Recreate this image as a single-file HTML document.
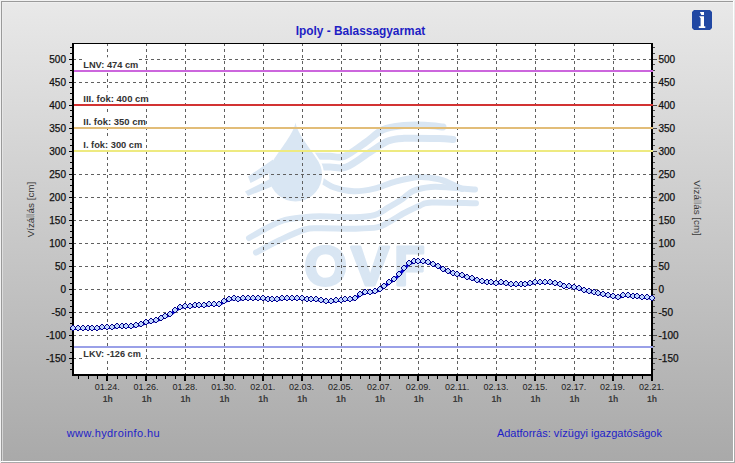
<!DOCTYPE html><html><head><meta charset="utf-8"><style>
html,body{margin:0;padding:0;overflow:hidden;background:#c8c8c8}
svg{display:block}
text{font-family:"Liberation Sans", sans-serif}
</style></head><body>
<svg width="735" height="463" viewBox="0 0 735 463">
<defs>
<linearGradient id="bg" x1="0" y1="0" x2="0" y2="1">
<stop offset="0" stop-color="#e9e9e9"/>
<stop offset="1" stop-color="#a9a9a9"/>
</linearGradient>
<clipPath id="rhalf"><rect x="300" y="100" width="60" height="120"/></clipPath>
</defs>
<rect x="0" y="0" width="735" height="463" fill="url(#bg)"/>
<g shape-rendering="crispEdges">
<rect x="0" y="0" width="735" height="1" fill="#f2f2f2"/>
<rect x="0" y="0" width="1" height="463" fill="#f2f2f2"/>
<rect x="1" y="1" width="733" height="1" fill="#9a9a9a"/>
<rect x="1" y="1" width="1" height="461" fill="#9a9a9a"/>
<rect x="1" y="461" width="733" height="1" fill="#ffffff"/>
<rect x="733" y="1" width="1" height="461" fill="#ffffff"/>
<rect x="2" y="2" width="731" height="1" fill="#efefef"/>
<rect x="2" y="2" width="1" height="459" fill="#efefef" opacity="0.6"/>
</g>
<text x="360.5" y="35" text-anchor="middle" font-size="11.9" font-weight="bold" fill="#1e1ec4">Ipoly - Balassagyarmat</text>
<path d="M694,10 H710 L712,12 V28 L710,30 H694 L692,28 V12 Z" fill="#2148a3"/>
<path d="M699.9,12 H704 V15 H701.3 Z M699.1,16.2 H704 V26.3 H705.3 V28 H698.8 V26.3 H700.6 V18.2 Z" fill="#fff"/>
<rect x="72" y="43" width="581" height="333" fill="#fff"/>
<g fill="none" stroke="#d9e6f3" stroke-linecap="round" stroke-linejoin="round">
<path d="M312.0,156.0 C315.0,156.1 324.7,156.2 330.0,156.3 C335.3,156.4 338.2,158.7 344.0,156.5 C349.8,154.3 358.2,147.5 364.8,143.0 C371.4,138.5 376.8,132.4 383.3,129.5 C389.8,126.6 397.1,126.2 404.0,125.5 C410.9,124.8 418.5,125.0 425.0,125.3 C431.5,125.5 440.0,126.7 443.0,127.0" stroke-width="7"/>
<path d="M316.0,167.0 C318.3,167.0 324.9,167.0 330.0,167.0 C335.1,167.0 339.7,169.4 346.3,167.0 C352.9,164.6 362.4,156.8 369.4,152.5 C376.3,148.2 382.2,143.4 388.0,141.0 C393.8,138.6 395.5,138.7 404.0,138.3 C412.5,137.9 430.7,138.3 438.9,138.5 C447.1,138.7 450.6,139.3 453.0,139.5" stroke-width="7"/>
<path d="M318.0,178.0 C320.6,179.5 327.6,185.0 333.6,187.2 C339.6,189.4 347.2,191.1 354.0,191.3 C360.8,191.5 367.6,190.2 374.4,188.6 C381.2,187.0 387.5,183.7 394.8,181.8 C402.1,179.9 411.2,177.5 418.4,177.0 C425.6,176.5 432.3,177.8 437.9,179.0 C443.5,180.2 448.0,182.5 452.0,184.2 C456.0,185.9 460.3,188.2 462.0,189.0" stroke-width="6"/>
<path d="M249.0,238.0 C251.7,236.5 259.3,231.9 265.0,229.0 C270.7,226.1 276.6,222.5 283.2,220.5 C289.8,218.5 298.7,217.9 304.8,217.2 C310.9,216.5 311.8,216.3 320.0,216.3 C328.2,216.3 344.9,217.4 354.0,217.2 C363.1,217.0 368.7,216.7 374.4,215.1 C380.1,213.5 383.5,210.3 388.0,207.7 C392.5,205.1 397.4,202.3 401.6,199.5 C405.8,196.7 408.1,193.1 413.0,191.0 C417.9,188.9 424.3,187.6 430.8,187.0 C437.3,186.4 444.6,187.3 452.0,187.7 C459.4,188.1 471.2,189.2 475.0,189.5" stroke-width="6"/>
<path d="M256.0,252.5 C260.0,250.4 271.9,243.8 280.0,240.0 C288.1,236.2 298.1,231.4 304.8,229.5 C311.5,227.6 311.8,228.4 320.0,228.3 C328.2,228.2 344.5,228.8 354.0,228.7 C363.5,228.5 371.3,228.4 377.0,227.4 C382.7,226.4 383.4,225.0 388.0,222.6 C392.6,220.2 399.1,215.8 404.4,213.0 C409.7,210.2 415.4,207.3 420.0,205.6 C424.6,203.8 422.7,202.9 432.0,202.5 C441.3,202.1 468.7,203.2 476.0,203.3" stroke-width="6"/>
</g>
<g fill="#d9e6f3">
<path d="M248,176.5 L273,159.5 L272.5,171.5 L250.5,183 Z"/>
<path d="M245,191.5 L271,178.5 L272,186.5 L248,196 Z"/>
</g>
<path d="M295.5,122.5 C297,133 311.5,150 318.4,161.6 A26.5,26.5 0 1,1 272.6,161.6 C279.5,150 294,133 295.5,122.5 Z" fill="#fff" stroke="#fff" stroke-width="4" clip-path="url(#rhalf)"/>
<path d="M295.5,122.5 C297,133 311.5,150 318.4,161.6 A26.5,26.5 0 1,1 272.6,161.6 C279.5,150 294,133 295.5,122.5 Z" fill="#d9e6f3"/>
<g font-size="55" font-weight="bold" fill="#d9e6f3" stroke="#d9e6f3" stroke-width="2.8" stroke-linejoin="round">
<text x="304.2" y="285.3">O</text>
<text transform="translate(349.8,285.3) scale(1.04,1)" x="1.07">V</text>
<text transform="translate(396.3,285.3) scale(0.91,1)" x="-2.23">F</text>
</g>
<g stroke="#606060" stroke-width="1" shape-rendering="crispEdges" fill="none">
<line x1="73" y1="59.5" x2="651" y2="59.5" stroke-dasharray="3,3"/>
<line x1="73" y1="82.5" x2="651" y2="82.5" stroke-dasharray="3,3"/>
<line x1="73" y1="105.5" x2="651" y2="105.5" stroke-dasharray="3,3"/>
<line x1="73" y1="128.5" x2="651" y2="128.5" stroke-dasharray="3,3"/>
<line x1="73" y1="151.5" x2="651" y2="151.5" stroke-dasharray="3,3"/>
<line x1="73" y1="174.5" x2="651" y2="174.5" stroke-dasharray="3,3"/>
<line x1="73" y1="197.5" x2="651" y2="197.5" stroke-dasharray="3,3"/>
<line x1="73" y1="220.5" x2="651" y2="220.5" stroke-dasharray="3,3"/>
<line x1="73" y1="243.5" x2="651" y2="243.5" stroke-dasharray="3,3"/>
<line x1="73" y1="266.5" x2="651" y2="266.5" stroke-dasharray="3,3"/>
<line x1="73" y1="289.5" x2="651" y2="289.5" stroke-dasharray="3,3"/>
<line x1="73" y1="312.5" x2="651" y2="312.5" stroke-dasharray="3,3"/>
<line x1="73" y1="335.5" x2="651" y2="335.5" stroke-dasharray="3,3"/>
<line x1="73" y1="358.5" x2="651" y2="358.5" stroke-dasharray="3,3"/>
<line x1="107.5" y1="43" x2="107.5" y2="374" stroke-dasharray="3,3"/>
<line x1="146.5" y1="43" x2="146.5" y2="374" stroke-dasharray="3,3"/>
<line x1="185.5" y1="43" x2="185.5" y2="374" stroke-dasharray="3,3"/>
<line x1="224.5" y1="43" x2="224.5" y2="374" stroke-dasharray="3,3"/>
<line x1="263.5" y1="43" x2="263.5" y2="374" stroke-dasharray="3,3"/>
<line x1="302.5" y1="43" x2="302.5" y2="374" stroke-dasharray="3,3"/>
<line x1="341.5" y1="43" x2="341.5" y2="374" stroke-dasharray="3,3"/>
<line x1="380.5" y1="43" x2="380.5" y2="374" stroke-dasharray="3,3"/>
<line x1="418.5" y1="43" x2="418.5" y2="374" stroke-dasharray="3,3"/>
<line x1="457.5" y1="43" x2="457.5" y2="374" stroke-dasharray="3,3"/>
<line x1="496.5" y1="43" x2="496.5" y2="374" stroke-dasharray="3,3"/>
<line x1="535.5" y1="43" x2="535.5" y2="374" stroke-dasharray="3,3"/>
<line x1="574.5" y1="43" x2="574.5" y2="374" stroke-dasharray="3,3"/>
<line x1="613.5" y1="43" x2="613.5" y2="374" stroke-dasharray="3,3"/>
</g>
<rect x="82" y="57.3" width="56.2" height="13" fill="#fff"/>
<rect x="82" y="91.4" width="66.7" height="13" fill="#fff"/>
<rect x="82" y="114.5" width="63.7" height="13" fill="#fff"/>
<rect x="82" y="137.3" width="60.2" height="13" fill="#fff"/>
<rect x="82" y="346.4" width="58.7" height="13" fill="#fff"/>
<g shape-rendering="crispEdges" fill="#000">
<rect x="72" y="43" width="581" height="1"/>
<rect x="72" y="43" width="2" height="333"/>
<rect x="651" y="43" width="2" height="333"/>
<rect x="72" y="374" width="581" height="2"/>
<rect x="70" y="47" width="2" height="1"/>
<rect x="70" y="53" width="2" height="1"/>
<rect x="69" y="59" width="3" height="1"/>
<rect x="70" y="64" width="2" height="1"/>
<rect x="70" y="70" width="2" height="1"/>
<rect x="70" y="76" width="2" height="1"/>
<rect x="69" y="82" width="3" height="1"/>
<rect x="70" y="87" width="2" height="1"/>
<rect x="70" y="93" width="2" height="1"/>
<rect x="70" y="99" width="2" height="1"/>
<rect x="69" y="105" width="3" height="1"/>
<rect x="70" y="110" width="2" height="1"/>
<rect x="70" y="116" width="2" height="1"/>
<rect x="70" y="122" width="2" height="1"/>
<rect x="69" y="128" width="3" height="1"/>
<rect x="70" y="133" width="2" height="1"/>
<rect x="70" y="139" width="2" height="1"/>
<rect x="70" y="145" width="2" height="1"/>
<rect x="69" y="151" width="3" height="1"/>
<rect x="70" y="156" width="2" height="1"/>
<rect x="70" y="162" width="2" height="1"/>
<rect x="70" y="168" width="2" height="1"/>
<rect x="69" y="174" width="3" height="1"/>
<rect x="70" y="179" width="2" height="1"/>
<rect x="70" y="185" width="2" height="1"/>
<rect x="70" y="191" width="2" height="1"/>
<rect x="69" y="197" width="3" height="1"/>
<rect x="70" y="202" width="2" height="1"/>
<rect x="70" y="208" width="2" height="1"/>
<rect x="70" y="214" width="2" height="1"/>
<rect x="69" y="220" width="3" height="1"/>
<rect x="70" y="225" width="2" height="1"/>
<rect x="70" y="231" width="2" height="1"/>
<rect x="70" y="237" width="2" height="1"/>
<rect x="69" y="243" width="3" height="1"/>
<rect x="70" y="248" width="2" height="1"/>
<rect x="70" y="254" width="2" height="1"/>
<rect x="70" y="260" width="2" height="1"/>
<rect x="69" y="266" width="3" height="1"/>
<rect x="70" y="271" width="2" height="1"/>
<rect x="70" y="277" width="2" height="1"/>
<rect x="70" y="283" width="2" height="1"/>
<rect x="69" y="289" width="3" height="1"/>
<rect x="70" y="294" width="2" height="1"/>
<rect x="70" y="300" width="2" height="1"/>
<rect x="70" y="306" width="2" height="1"/>
<rect x="69" y="312" width="3" height="1"/>
<rect x="70" y="317" width="2" height="1"/>
<rect x="70" y="323" width="2" height="1"/>
<rect x="70" y="329" width="2" height="1"/>
<rect x="69" y="335" width="3" height="1"/>
<rect x="70" y="340" width="2" height="1"/>
<rect x="70" y="346" width="2" height="1"/>
<rect x="70" y="352" width="2" height="1"/>
<rect x="69" y="358" width="3" height="1"/>
<rect x="70" y="363" width="2" height="1"/>
<rect x="70" y="369" width="2" height="1"/>
<rect x="78" y="376" width="1" height="3"/>
<rect x="88" y="376" width="1" height="3"/>
<rect x="97" y="376" width="1" height="3"/>
<rect x="106" y="376" width="2" height="5"/>
<rect x="117" y="376" width="1" height="3"/>
<rect x="126" y="376" width="1" height="3"/>
<rect x="136" y="376" width="1" height="3"/>
<rect x="145" y="376" width="2" height="5"/>
<rect x="156" y="376" width="1" height="3"/>
<rect x="165" y="376" width="1" height="3"/>
<rect x="175" y="376" width="1" height="3"/>
<rect x="184" y="376" width="2" height="5"/>
<rect x="194" y="376" width="1" height="3"/>
<rect x="204" y="376" width="1" height="3"/>
<rect x="214" y="376" width="1" height="3"/>
<rect x="223" y="376" width="2" height="5"/>
<rect x="233" y="376" width="1" height="3"/>
<rect x="243" y="376" width="1" height="3"/>
<rect x="253" y="376" width="1" height="3"/>
<rect x="262" y="376" width="2" height="5"/>
<rect x="272" y="376" width="1" height="3"/>
<rect x="282" y="376" width="1" height="3"/>
<rect x="292" y="376" width="1" height="3"/>
<rect x="301" y="376" width="2" height="5"/>
<rect x="311" y="376" width="1" height="3"/>
<rect x="321" y="376" width="1" height="3"/>
<rect x="331" y="376" width="1" height="3"/>
<rect x="340" y="376" width="2" height="5"/>
<rect x="350" y="376" width="1" height="3"/>
<rect x="360" y="376" width="1" height="3"/>
<rect x="369" y="376" width="1" height="3"/>
<rect x="379" y="376" width="2" height="5"/>
<rect x="389" y="376" width="1" height="3"/>
<rect x="399" y="376" width="1" height="3"/>
<rect x="408" y="376" width="1" height="3"/>
<rect x="417" y="376" width="2" height="5"/>
<rect x="428" y="376" width="1" height="3"/>
<rect x="437" y="376" width="1" height="3"/>
<rect x="447" y="376" width="1" height="3"/>
<rect x="456" y="376" width="2" height="5"/>
<rect x="467" y="376" width="1" height="3"/>
<rect x="476" y="376" width="1" height="3"/>
<rect x="486" y="376" width="1" height="3"/>
<rect x="495" y="376" width="2" height="5"/>
<rect x="506" y="376" width="1" height="3"/>
<rect x="515" y="376" width="1" height="3"/>
<rect x="525" y="376" width="1" height="3"/>
<rect x="534" y="376" width="2" height="5"/>
<rect x="544" y="376" width="1" height="3"/>
<rect x="554" y="376" width="1" height="3"/>
<rect x="564" y="376" width="1" height="3"/>
<rect x="573" y="376" width="2" height="5"/>
<rect x="583" y="376" width="1" height="3"/>
<rect x="593" y="376" width="1" height="3"/>
<rect x="603" y="376" width="1" height="3"/>
<rect x="612" y="376" width="2" height="5"/>
<rect x="622" y="376" width="1" height="3"/>
<rect x="632" y="376" width="1" height="3"/>
<rect x="642" y="376" width="1" height="3"/>
<rect x="651" y="376" width="2" height="5"/>
</g>
<g shape-rendering="crispEdges" fill="#4a4a4a"><rect x="653" y="47" width="2" height="1"/><rect x="653" y="53" width="2" height="1"/><rect x="653" y="59" width="4" height="1"/><rect x="653" y="64" width="2" height="1"/><rect x="653" y="70" width="2" height="1"/><rect x="653" y="76" width="2" height="1"/><rect x="653" y="82" width="4" height="1"/><rect x="653" y="87" width="2" height="1"/><rect x="653" y="93" width="2" height="1"/><rect x="653" y="99" width="2" height="1"/><rect x="653" y="105" width="4" height="1"/><rect x="653" y="110" width="2" height="1"/><rect x="653" y="116" width="2" height="1"/><rect x="653" y="122" width="2" height="1"/><rect x="653" y="128" width="4" height="1"/><rect x="653" y="133" width="2" height="1"/><rect x="653" y="139" width="2" height="1"/><rect x="653" y="145" width="2" height="1"/><rect x="653" y="151" width="4" height="1"/><rect x="653" y="156" width="2" height="1"/><rect x="653" y="162" width="2" height="1"/><rect x="653" y="168" width="2" height="1"/><rect x="653" y="174" width="4" height="1"/><rect x="653" y="179" width="2" height="1"/><rect x="653" y="185" width="2" height="1"/><rect x="653" y="191" width="2" height="1"/><rect x="653" y="197" width="4" height="1"/><rect x="653" y="202" width="2" height="1"/><rect x="653" y="208" width="2" height="1"/><rect x="653" y="214" width="2" height="1"/><rect x="653" y="220" width="4" height="1"/><rect x="653" y="225" width="2" height="1"/><rect x="653" y="231" width="2" height="1"/><rect x="653" y="237" width="2" height="1"/><rect x="653" y="243" width="4" height="1"/><rect x="653" y="248" width="2" height="1"/><rect x="653" y="254" width="2" height="1"/><rect x="653" y="260" width="2" height="1"/><rect x="653" y="266" width="4" height="1"/><rect x="653" y="271" width="2" height="1"/><rect x="653" y="277" width="2" height="1"/><rect x="653" y="283" width="2" height="1"/><rect x="653" y="289" width="4" height="1"/><rect x="653" y="294" width="2" height="1"/><rect x="653" y="300" width="2" height="1"/><rect x="653" y="306" width="2" height="1"/><rect x="653" y="312" width="4" height="1"/><rect x="653" y="317" width="2" height="1"/><rect x="653" y="323" width="2" height="1"/><rect x="653" y="329" width="2" height="1"/><rect x="653" y="335" width="4" height="1"/><rect x="653" y="340" width="2" height="1"/><rect x="653" y="346" width="2" height="1"/><rect x="653" y="352" width="2" height="1"/><rect x="653" y="358" width="4" height="1"/><rect x="653" y="363" width="2" height="1"/><rect x="653" y="369" width="2" height="1"/></g>
<g shape-rendering="crispEdges">
<rect x="74" y="70" width="579" height="2" fill="#cc66dd"/>
<rect x="74" y="104" width="579" height="2" fill="#d23232"/>
<rect x="74" y="127" width="579" height="2" fill="#e2bd78"/>
<rect x="74" y="150" width="579" height="2" fill="#eeea80"/>
<rect x="74" y="346" width="579" height="2" fill="#9aa0e8"/>
</g>
<text x="83.3" y="67.8" font-size="9.3" font-weight="bold" fill="#333" textLength="55" lengthAdjust="spacingAndGlyphs">LNV: 474 cm</text>
<text x="83.3" y="101.9" font-size="9.3" font-weight="bold" fill="#333" textLength="65.5" lengthAdjust="spacingAndGlyphs">III. fok: 400 cm</text>
<text x="83.3" y="125" font-size="9.3" font-weight="bold" fill="#333" textLength="62.5" lengthAdjust="spacingAndGlyphs">II. fok: 350 cm</text>
<text x="83.3" y="147.8" font-size="9.3" font-weight="bold" fill="#333" textLength="59" lengthAdjust="spacingAndGlyphs">I. fok: 300 cm</text>
<text x="83.3" y="356.9" font-size="9.3" font-weight="bold" fill="#333" textLength="57.5" lengthAdjust="spacingAndGlyphs">LKV: -126 cm</text>
<polyline points="73.5,328.5 78.5,328.5 83.5,328.5 88.5,328.5 92.5,328.5 97.5,328.5 102.5,327.5 107.5,327.5 112.5,327.5 117.5,326.5 122.5,326.5 126.5,326.5 131.5,326.5 136.5,325.5 141.5,324.5 146.5,322.5 151.5,321.5 156.5,320.5 161.5,318.5 165.5,316.5 170.5,314.5 175.5,310.5 180.5,307.5 185.5,306.5 190.5,306.5 195.5,305.5 199.5,305.5 204.5,305.5 209.5,304.5 214.5,304.5 219.5,304.5 224.5,301.5 229.5,299.5 234.5,298.5 238.5,299.5 243.5,298.5 248.5,298.5 253.5,298.5 258.5,298.5 263.5,298.5 268.5,299.5 272.5,299.5 277.5,299.5 282.5,298.5 287.5,298.5 292.5,298.5 297.5,298.5 302.5,298.5 307.5,299.5 311.5,299.5 316.5,299.5 321.5,300.5 326.5,301.5 331.5,301.5 336.5,300.5 341.5,300.5 345.5,299.5 350.5,299.5 355.5,298.5 360.5,294.5 365.5,292.5 370.5,292.5 375.5,291.5 380.5,289.5 384.5,286.5 389.5,282.5 394.5,279.5 399.5,274.5 404.5,268.5 409.5,263.5 414.5,261.5 418.5,261.5 423.5,261.5 428.5,262.5 433.5,264.5 438.5,266.5 443.5,269.5 448.5,271.5 453.5,273.5 457.5,274.5 462.5,275.5 467.5,277.5 472.5,278.5 477.5,280.5 482.5,281.5 487.5,282.5 491.5,282.5 496.5,283.5 501.5,282.5 506.5,283.5 511.5,284.5 516.5,284.5 521.5,284.5 525.5,284.5 530.5,283.5 535.5,282.5 540.5,282.5 545.5,282.5 550.5,282.5 555.5,283.5 560.5,284.5 564.5,286.5 569.5,286.5 574.5,287.5 579.5,288.5 584.5,290.5 589.5,291.5 594.5,292.5 598.5,293.5 603.5,294.5 608.5,295.5 613.5,296.5 618.5,297.5 623.5,295.5 628.5,295.5 633.5,296.5 637.5,296.5 642.5,297.5 647.5,297.5 652.5,298.5" fill="none" stroke="#0000d8" stroke-width="3" stroke-linejoin="round"/>
<defs><g id="mk" shape-rendering="crispEdges"><path d="M-1,-2h2v1h-2zM-2,-1h4v2h-4zM-1,1h2v1h-2z" fill="#bfd6ff"/><path d="M-1,-3h2v1h-2zM-2,-2h1v1h-1zM1,-2h1v1h-1zM-3,-1h1v2h-1zM2,-1h1v2h-1zM-2,1h1v1h-1zM1,1h1v1h-1zM-1,2h2v1h-2z" fill="#000086"/></g></defs>
<use href="#mk" x="73" y="328"/>
<use href="#mk" x="78" y="328"/>
<use href="#mk" x="83" y="328"/>
<use href="#mk" x="88" y="328"/>
<use href="#mk" x="92" y="328"/>
<use href="#mk" x="97" y="328"/>
<use href="#mk" x="102" y="327"/>
<use href="#mk" x="107" y="327"/>
<use href="#mk" x="112" y="327"/>
<use href="#mk" x="117" y="326"/>
<use href="#mk" x="122" y="326"/>
<use href="#mk" x="126" y="326"/>
<use href="#mk" x="131" y="326"/>
<use href="#mk" x="136" y="325"/>
<use href="#mk" x="141" y="324"/>
<use href="#mk" x="146" y="322"/>
<use href="#mk" x="151" y="321"/>
<use href="#mk" x="156" y="320"/>
<use href="#mk" x="161" y="318"/>
<use href="#mk" x="165" y="316"/>
<use href="#mk" x="170" y="314"/>
<use href="#mk" x="175" y="310"/>
<use href="#mk" x="180" y="307"/>
<use href="#mk" x="185" y="306"/>
<use href="#mk" x="190" y="306"/>
<use href="#mk" x="195" y="305"/>
<use href="#mk" x="199" y="305"/>
<use href="#mk" x="204" y="305"/>
<use href="#mk" x="209" y="304"/>
<use href="#mk" x="214" y="304"/>
<use href="#mk" x="219" y="304"/>
<use href="#mk" x="224" y="301"/>
<use href="#mk" x="229" y="299"/>
<use href="#mk" x="234" y="298"/>
<use href="#mk" x="238" y="299"/>
<use href="#mk" x="243" y="298"/>
<use href="#mk" x="248" y="298"/>
<use href="#mk" x="253" y="298"/>
<use href="#mk" x="258" y="298"/>
<use href="#mk" x="263" y="298"/>
<use href="#mk" x="268" y="299"/>
<use href="#mk" x="272" y="299"/>
<use href="#mk" x="277" y="299"/>
<use href="#mk" x="282" y="298"/>
<use href="#mk" x="287" y="298"/>
<use href="#mk" x="292" y="298"/>
<use href="#mk" x="297" y="298"/>
<use href="#mk" x="302" y="298"/>
<use href="#mk" x="307" y="299"/>
<use href="#mk" x="311" y="299"/>
<use href="#mk" x="316" y="299"/>
<use href="#mk" x="321" y="300"/>
<use href="#mk" x="326" y="301"/>
<use href="#mk" x="331" y="301"/>
<use href="#mk" x="336" y="300"/>
<use href="#mk" x="341" y="300"/>
<use href="#mk" x="345" y="299"/>
<use href="#mk" x="350" y="299"/>
<use href="#mk" x="355" y="298"/>
<use href="#mk" x="360" y="294"/>
<use href="#mk" x="365" y="292"/>
<use href="#mk" x="370" y="292"/>
<use href="#mk" x="375" y="291"/>
<use href="#mk" x="380" y="289"/>
<use href="#mk" x="384" y="286"/>
<use href="#mk" x="389" y="282"/>
<use href="#mk" x="394" y="279"/>
<use href="#mk" x="399" y="274"/>
<use href="#mk" x="404" y="268"/>
<use href="#mk" x="409" y="263"/>
<use href="#mk" x="414" y="261"/>
<use href="#mk" x="418" y="261"/>
<use href="#mk" x="423" y="261"/>
<use href="#mk" x="428" y="262"/>
<use href="#mk" x="433" y="264"/>
<use href="#mk" x="438" y="266"/>
<use href="#mk" x="443" y="269"/>
<use href="#mk" x="448" y="271"/>
<use href="#mk" x="453" y="273"/>
<use href="#mk" x="457" y="274"/>
<use href="#mk" x="462" y="275"/>
<use href="#mk" x="467" y="277"/>
<use href="#mk" x="472" y="278"/>
<use href="#mk" x="477" y="280"/>
<use href="#mk" x="482" y="281"/>
<use href="#mk" x="487" y="282"/>
<use href="#mk" x="491" y="282"/>
<use href="#mk" x="496" y="283"/>
<use href="#mk" x="501" y="282"/>
<use href="#mk" x="506" y="283"/>
<use href="#mk" x="511" y="284"/>
<use href="#mk" x="516" y="284"/>
<use href="#mk" x="521" y="284"/>
<use href="#mk" x="525" y="284"/>
<use href="#mk" x="530" y="283"/>
<use href="#mk" x="535" y="282"/>
<use href="#mk" x="540" y="282"/>
<use href="#mk" x="545" y="282"/>
<use href="#mk" x="550" y="282"/>
<use href="#mk" x="555" y="283"/>
<use href="#mk" x="560" y="284"/>
<use href="#mk" x="564" y="286"/>
<use href="#mk" x="569" y="286"/>
<use href="#mk" x="574" y="287"/>
<use href="#mk" x="579" y="288"/>
<use href="#mk" x="584" y="290"/>
<use href="#mk" x="589" y="291"/>
<use href="#mk" x="594" y="292"/>
<use href="#mk" x="598" y="293"/>
<use href="#mk" x="603" y="294"/>
<use href="#mk" x="608" y="295"/>
<use href="#mk" x="613" y="296"/>
<use href="#mk" x="618" y="297"/>
<use href="#mk" x="623" y="295"/>
<use href="#mk" x="628" y="295"/>
<use href="#mk" x="633" y="296"/>
<use href="#mk" x="637" y="296"/>
<use href="#mk" x="642" y="297"/>
<use href="#mk" x="647" y="297"/>
<use href="#mk" x="652" y="298"/>
<g font-size="10" fill="#111" stroke="#111" stroke-width="0.25">
<text x="66" y="62.8" text-anchor="end">500</text>
<text x="658.5" y="62.8">500</text>
<text x="66" y="85.8" text-anchor="end">450</text>
<text x="658.5" y="85.8">450</text>
<text x="66" y="108.8" text-anchor="end">400</text>
<text x="658.5" y="108.8">400</text>
<text x="66" y="131.8" text-anchor="end">350</text>
<text x="658.5" y="131.8">350</text>
<text x="66" y="154.8" text-anchor="end">300</text>
<text x="658.5" y="154.8">300</text>
<text x="66" y="177.8" text-anchor="end">250</text>
<text x="658.5" y="177.8">250</text>
<text x="66" y="200.8" text-anchor="end">200</text>
<text x="658.5" y="200.8">200</text>
<text x="66" y="223.8" text-anchor="end">150</text>
<text x="658.5" y="223.8">150</text>
<text x="66" y="246.8" text-anchor="end">100</text>
<text x="658.5" y="246.8">100</text>
<text x="66" y="269.8" text-anchor="end">50</text>
<text x="658.5" y="269.8">50</text>
<text x="66" y="292.8" text-anchor="end">0</text>
<text x="658.5" y="292.8">0</text>
<text x="66" y="315.8" text-anchor="end">-50</text>
<text x="658.5" y="315.8">-50</text>
<text x="66" y="338.8" text-anchor="end">-100</text>
<text x="658.5" y="338.8">-100</text>
<text x="66" y="361.8" text-anchor="end">-150</text>
<text x="658.5" y="361.8">-150</text>
</g>
<g font-size="9" fill="#222" text-anchor="middle">
<text x="107.2" y="389.6">01.24.</text>
<text x="107.8" y="402" font-size="8.6" font-weight="bold" fill="#3a3a3a">1h</text>
<text x="146.1" y="389.6">01.26.</text>
<text x="146.7" y="402" font-size="8.6" font-weight="bold" fill="#3a3a3a">1h</text>
<text x="185.0" y="389.6">01.28.</text>
<text x="185.6" y="402" font-size="8.6" font-weight="bold" fill="#3a3a3a">1h</text>
<text x="223.8" y="389.6">01.30.</text>
<text x="224.4" y="402" font-size="8.6" font-weight="bold" fill="#3a3a3a">1h</text>
<text x="262.7" y="389.6">02.01.</text>
<text x="263.3" y="402" font-size="8.6" font-weight="bold" fill="#3a3a3a">1h</text>
<text x="301.6" y="389.6">02.03.</text>
<text x="302.2" y="402" font-size="8.6" font-weight="bold" fill="#3a3a3a">1h</text>
<text x="340.5" y="389.6">02.05.</text>
<text x="341.1" y="402" font-size="8.6" font-weight="bold" fill="#3a3a3a">1h</text>
<text x="379.4" y="389.6">02.07.</text>
<text x="380.0" y="402" font-size="8.6" font-weight="bold" fill="#3a3a3a">1h</text>
<text x="418.2" y="389.6">02.09.</text>
<text x="418.8" y="402" font-size="8.6" font-weight="bold" fill="#3a3a3a">1h</text>
<text x="457.1" y="389.6">02.11.</text>
<text x="457.7" y="402" font-size="8.6" font-weight="bold" fill="#3a3a3a">1h</text>
<text x="496.0" y="389.6">02.13.</text>
<text x="496.6" y="402" font-size="8.6" font-weight="bold" fill="#3a3a3a">1h</text>
<text x="534.9" y="389.6">02.15.</text>
<text x="535.5" y="402" font-size="8.6" font-weight="bold" fill="#3a3a3a">1h</text>
<text x="573.8" y="389.6">02.17.</text>
<text x="574.4" y="402" font-size="8.6" font-weight="bold" fill="#3a3a3a">1h</text>
<text x="612.6" y="389.6">02.19.</text>
<text x="613.2" y="402" font-size="8.6" font-weight="bold" fill="#3a3a3a">1h</text>
<text x="651.5" y="389.6">02.21.</text>
<text x="652.1" y="402" font-size="8.6" font-weight="bold" fill="#3a3a3a">1h</text>
</g>
<text transform="translate(33.5,209.6) rotate(-90)" text-anchor="middle" font-size="9.8" fill="#333">Vízállás [cm]</text>
<text transform="translate(694,208) rotate(90)" text-anchor="middle" font-size="9.8" fill="#383838">Vízállás [cm]</text>
<rect x="26.3" y="214.1" width="7.6" height="3.6" fill="#a9a9a9"/>
<rect x="694.1" y="199.8" width="7.4" height="3.8" fill="#b2b2b2"/>
<text x="66.7" y="437.3" font-size="11" fill="#1e1ec8" textLength="93" lengthAdjust="spacing">www.hydroinfo.hu</text>
<text x="496.9" y="437.3" font-size="11" fill="#1e1ec8">Adatforrás: vízügyi igazgatóságok</text>
</svg></body></html>
